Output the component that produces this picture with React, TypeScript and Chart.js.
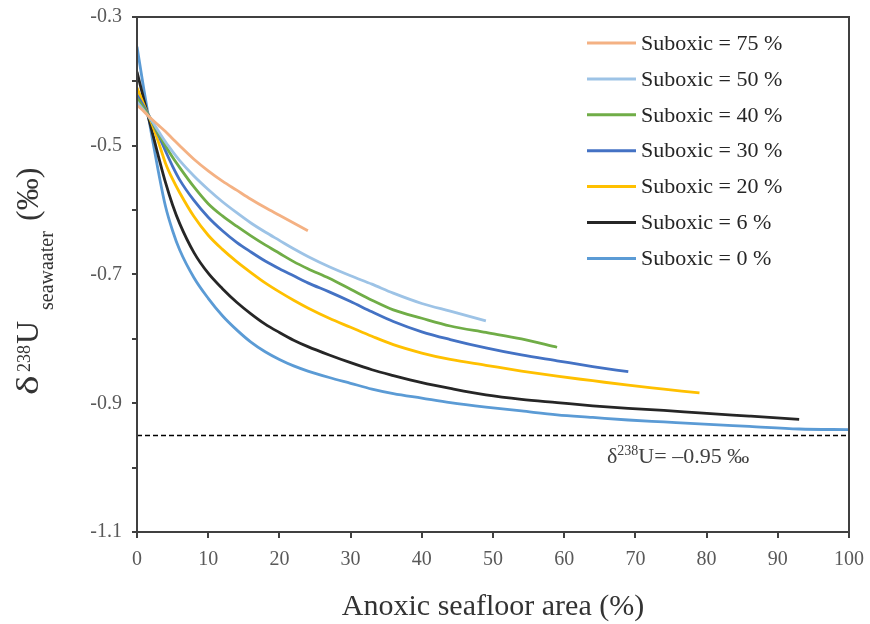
import React, { useEffect, useRef } from "react";
import { Chart, registerables } from "chart.js";

Chart.register(...registerables);

// ---- data ----
const X_GRID = [0, 1, 2, 3, 4, 5, 6, 8, 10, 12, 14, 16, 18, 20, 22, 24, 27, 30, 33, 36, 40, 44, 49, 54, 59, 64, 69, 74, 79, 86, 93, 100];

const SERIES_LABELS = [
  "Suboxic = 75 %",
  "Suboxic = 50 %",
  "Suboxic = 40 %",
  "Suboxic = 30 %",
  "Suboxic = 20 %",
  "Suboxic = 6 %",
  "Suboxic = 0 %",
];

const suboxic75 = [-0.437, -0.447, -0.458, -0.468, -0.478, -0.489, -0.5, -0.521, -0.539, -0.555, -0.569, -0.583, -0.596, -0.608, -0.62, -0.632];
const suboxic50 = [-0.432, -0.446, -0.46, -0.477, -0.494, -0.509, -0.523, -0.547, -0.568, -0.587, -0.604, -0.62, -0.634, -0.647, -0.66, -0.672, -0.688, -0.702, -0.715, -0.729, -0.745, -0.757, -0.772];
const suboxic40 = [-0.426, -0.443, -0.46, -0.481, -0.5, -0.518, -0.534, -0.564, -0.59, -0.609, -0.625, -0.64, -0.654, -0.667, -0.68, -0.691, -0.706, -0.723, -0.74, -0.755, -0.768, -0.78, -0.79, -0.8, -0.813];
const suboxic30 = [-0.421, -0.44, -0.46, -0.483, -0.508, -0.532, -0.553, -0.585, -0.611, -0.632, -0.65, -0.665, -0.679, -0.691, -0.702, -0.713, -0.727, -0.742, -0.758, -0.773, -0.789, -0.801, -0.814, -0.825, -0.834, -0.843, -0.851];
const suboxic20 = [-0.41, -0.437, -0.463, -0.494, -0.527, -0.552, -0.573, -0.61, -0.639, -0.661, -0.68, -0.697, -0.713, -0.727, -0.74, -0.752, -0.768, -0.782, -0.796, -0.809, -0.822, -0.832, -0.841, -0.85, -0.858, -0.865, -0.872, -0.878, -0.884];
const suboxic6 = [-0.385, -0.43, -0.473, -0.516, -0.557, -0.592, -0.621, -0.666, -0.698, -0.722, -0.743, -0.761, -0.777, -0.79, -0.802, -0.812, -0.825, -0.837, -0.848, -0.857, -0.868, -0.877, -0.887, -0.894, -0.899, -0.904, -0.908, -0.911, -0.915, -0.92, -0.925];
const suboxic0 = [-0.346, -0.415, -0.48, -0.54, -0.594, -0.632, -0.662, -0.705, -0.737, -0.764, -0.786, -0.805, -0.82, -0.832, -0.842, -0.85, -0.86, -0.869, -0.878, -0.885, -0.892, -0.899, -0.906, -0.912, -0.918, -0.922, -0.926, -0.929, -0.932, -0.936, -0.94, -0.941];

const SERIES_VALUES = [suboxic75, suboxic50, suboxic40, suboxic30, suboxic20, suboxic6, suboxic0];
const SERIES_COLORS = ["#F4B183", "#9DC3E6", "#70AD47", "#4472C4", "#FFC000", "#262626", "#5B9BD5"];

const REF_VALUE = -0.95;
const REF_X = [0, 100];

const X_MIN = 0, X_MAX = 100, X_STEP = 10;
const Y_MIN = -1.1, Y_MAX = -0.3, Y_STEP = 0.1;

const X_TITLE = "Anoxic seafloor area (%)";

const SERIF = "'Liberation Serif', 'Times New Roman', serif";
const AXIS_COLOR = "#404040";

const overlayPlugin = {
  id: "overlay",
  afterDraw(chart: any) {
    const { ctx, chartArea } = chart;
    const { left, right, top, bottom } = chartArea;
    ctx.save();
    // frame
    ctx.strokeStyle = AXIS_COLOR;
    ctx.lineWidth = 2;
    ctx.strokeRect(left, top, right - left, bottom - top);

    // legend
    const ds = chart.data.datasets.filter((d: any) => d.label);
    const lx0 = 587, lx1 = 636, tx = 641, y0 = 43, dy = 35.9;
    ctx.font = `22px ${SERIF}`;
    ctx.textBaseline = "middle";
    ctx.textAlign = "left";
    ds.forEach((d: any, i: number) => {
      const y = y0 + i * dy;
      ctx.strokeStyle = d.borderColor;
      ctx.lineWidth = 3;
      ctx.beginPath();
      ctx.moveTo(lx0, y);
      ctx.lineTo(lx1, y);
      ctx.stroke();
      ctx.fillStyle = "#262626";
      ctx.fillText(d.label, tx, y + 1);
    });

    // x title
    ctx.fillStyle = "#333333";
    ctx.font = `30px ${SERIF}`;
    ctx.textAlign = "center";
    ctx.textBaseline = "alphabetic";
    ctx.fillText(X_TITLE, (left + right) / 2, 615);

    // reference label
    ctx.textAlign = "left";
    ctx.fillStyle = "#404040";
    let x = 607;
    const by = 463;
    ctx.font = `22px ${SERIF}`;
    ctx.fillText("\u03b4", x, by);
    x += ctx.measureText("\u03b4").width;
    ctx.font = `14px ${SERIF}`;
    ctx.fillText("238", x, by - 8);
    x += ctx.measureText("238").width;
    ctx.font = `22px ${SERIF}`;
    ctx.fillText("U= \u20130.95 \u2030", x, by);

    // y title (rotated)
    ctx.translate(38, 395);
    ctx.rotate(-Math.PI / 2);
    ctx.fillStyle = "#333333";
    ctx.save();
    ctx.scale(1.3, 1);
    ctx.font = `32px ${SERIF}`;
    ctx.fillText("\u03b4", 0, 0);
    ctx.restore();
    ctx.font = `18px ${SERIF}`;
    ctx.fillText("238", 23, -8);
    ctx.font = `32px ${SERIF}`;
    ctx.fillText("U", 51, 0);
    ctx.font = `20px ${SERIF}`;
    ctx.fillText("seawaater", 85, 15);
    ctx.font = `32px ${SERIF}`;
    ctx.fillText("(\u2030)", 174, 0);
    ctx.restore();
  },
};

export default function App() {
  const canvasRef = useRef<HTMLCanvasElement | null>(null);

  useEffect(() => {
    if (!canvasRef.current) return;
    const datasets: any[] = SERIES_LABELS.map((label, i) => ({
      label,
      data: SERIES_VALUES[i].map((v, j) => ({ x: X_GRID[j], y: v })),
      borderColor: SERIES_COLORS[i],
      backgroundColor: SERIES_COLORS[i],
      borderWidth: 2.8,
      pointRadius: 0,
      fill: false,
      cubicInterpolationMode: "monotone",
    }));
    datasets.push({
      label: "",
      data: REF_X.map((x) => ({ x, y: REF_VALUE })),
      borderColor: "#000000",
      borderWidth: 1.6,
      borderDash: [5, 3],
      pointRadius: 0,
      fill: false,
    });

    const chart = new Chart(canvasRef.current, {
      type: "line",
      data: { datasets },
      options: {
        animation: false,
        responsive: true,
        maintainAspectRatio: false,
        layout: { padding: { top: 17, right: 21, left: 0, bottom: 0 } },
        plugins: { legend: { display: false }, tooltip: { enabled: false }, title: { display: false } },
        scales: {
          x: {
            type: "linear",
            min: X_MIN,
            max: X_MAX,
            afterFit: (s: any) => { s.height = 92; s.paddingLeft = 0; s.paddingRight = 0; },
            border: { display: false },
            grid: { drawOnChartArea: false, drawTicks: true, tickLength: 6, color: AXIS_COLOR, lineWidth: 2 },
            ticks: { stepSize: X_STEP, color: "#595959", font: { family: SERIF, size: 20 }, padding: 10, maxRotation: 0 },
          },
          y: {
            type: "linear",
            min: Y_MIN,
            max: Y_MAX,
            afterFit: (s: any) => { s.width = 137; s.paddingTop = 0; s.paddingBottom = 0; },
            border: { display: false },
            grid: { drawOnChartArea: false, drawTicks: true, tickLength: 5, color: AXIS_COLOR, lineWidth: 2 },
            ticks: {
              stepSize: Y_STEP,
              color: "#595959",
              font: { family: SERIF, size: 20 },
              padding: 10,
              callback: (value: any) => {
                const k = Math.round(Number(value) * 10);
                return Math.abs(k) % 2 === 1 ? (k / 10).toFixed(1) : "";
              },
            },
          },
        },
      },
      plugins: [overlayPlugin],
    });
    return () => chart.destroy();
  }, []);

  return (
    <div style={{ position: "absolute", left: 0, top: 0, width: 870, height: 624 }}>
      <canvas ref={canvasRef} />
    </div>
  );
}
